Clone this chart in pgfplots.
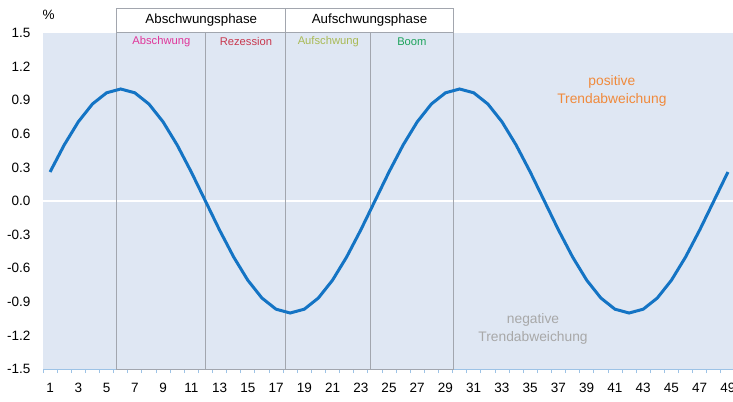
\documentclass[border=0pt]{standalone}
\usepackage{pgfplots}
\pgfplotsset{compat=1.18}
\usepackage{fontspec}
\setmainfont{Liberation Sans}
\definecolor{bgblue}{HTML}{DFE7F3}
\definecolor{curveblue}{HTML}{1474C4}
\definecolor{axblue}{HTML}{9DC3E6}
\definecolor{boxgray}{HTML}{A2A6AE}
\definecolor{cmag}{HTML}{E0369A}
\definecolor{cred}{HTML}{C8384E}
\definecolor{colive}{HTML}{A9BA55}
\definecolor{cgreen}{HTML}{1CA35B}
\definecolor{corange}{HTML}{F08A3C}
\definecolor{cgray}{HTML}{A8A8A8}
\begin{document}
\begin{tikzpicture}[x=1bp,y=1bp]
\useasboundingbox (0,0) rectangle (733,401);
\begin{axis}[
  at={(43bp,32bp)}, anchor=south west,
  scale only axis, width=692bp, height=336bp,
  xmin=0.5, xmax=49.5, ymin=-1.5, ymax=1.5,
  clip=false,
  axis background/.style={fill=bgblue},
  axis x line*=bottom, axis y line*=left,
  x axis line style={draw=axblue, line width=1bp},
  y axis line style={draw=none},
  xtick={1,3,...,49},
  minor xtick={0.5,1.5,...,49.5},
  ytick={-1.5,-1.2,...,1.6},
  major tick length=0pt,
  minor tick length=4bp,
  tick align=outside,
  minor tick style={draw=axblue, line width=0.8bp},
  major tick style={draw=none},
  /pgf/number format/assume math mode=true,
  yticklabel={\pgfmathprintnumber[fixed,fixed zerofill,precision=1]{\tick}},
  ticklabel style={font=\fontsize{13.5bp}{16bp}\selectfont, text=black},
  yticklabel style={xshift=-9bp},
  xticklabel style={yshift=-11bp},
]
% zero line
\draw[white, line width=2.2bp] (axis cs:0.5,0) -- (axis cs:49.5,0);
% phase box
\fill[white] (axis cs:5.72,1.5) rectangle (axis cs:29.55,1.723);
\draw[boxgray, line width=1bp] (axis cs:5.72,-1.5) rectangle (axis cs:29.55,1.723);
\draw[boxgray, line width=1bp] (axis cs:5.72,1.5) -- (axis cs:29.55,1.5);
\draw[boxgray, line width=1bp] (axis cs:17.7,-1.5) -- (axis cs:17.7,1.723);
\draw[boxgray, line width=1bp] (axis cs:12.04,-1.5) -- (axis cs:12.04,1.5);
\draw[boxgray, line width=1bp] (axis cs:23.7,-1.5) -- (axis cs:23.7,1.5);
% header labels
\node[font=\fontsize{13.3bp}{16bp}\selectfont] at (axis cs:11.71,1.613) {Abschwungsphase};
\node[font=\fontsize{13.3bp}{16bp}\selectfont] at (axis cs:23.62,1.613) {Aufschwungsphase};
\node[font=\fontsize{11.2bp}{13bp}\selectfont, text=cmag] at (axis cs:8.88,1.42) {Abschwung};
\node[font=\fontsize{11.2bp}{13bp}\selectfont, text=cred] at (axis cs:14.87,1.42) {Rezession};
\node[font=\fontsize{11.2bp}{13bp}\selectfont, text=colive] at (axis cs:20.7,1.42) {Aufschwung};
\node[font=\fontsize{11.2bp}{13bp}\selectfont, text=cgreen] at (axis cs:26.62,1.42) {Boom};
% annotations
\node[font=\fontsize{13.8bp}{18bp}\selectfont, text=corange, align=center] at (axis cs:40.78,0.982) {positive\\Trendabweichung};
\node[font=\fontsize{13.8bp}{18bp}\selectfont, text=cgray, align=center] at (axis cs:35.2,-1.143) {negative\\Trendabweichung};
\node[font=\fontsize{13.5bp}{16bp}\selectfont] at (rel axis cs:0.008,1.055) {\%};
\addplot[curveblue, line width=3bp, mark=none] coordinates {
(1,0.259) (2,0.5) (3,0.707) (4,0.866) (5,0.966) (6,1.0) (7,0.966) (8,0.866) (9,0.707) (10,0.5)
(11,0.259) (12,0) (13,-0.259) (14,-0.5) (15,-0.707) (16,-0.866) (17,-0.966) (18,-1.0) (19,-0.966) (20,-0.866)
(21,-0.707) (22,-0.5) (23,-0.259) (24,0) (25,0.259) (26,0.5) (27,0.707) (28,0.866) (29,0.966) (30,1.0)
(31,0.966) (32,0.866) (33,0.707) (34,0.5) (35,0.259) (36,0) (37,-0.259) (38,-0.5) (39,-0.707) (40,-0.866)
(41,-0.966) (42,-1.0) (43,-0.966) (44,-0.866) (45,-0.707) (46,-0.5) (47,-0.259) (48,0) (49,0.259)
};
\end{axis}
\end{tikzpicture}
\end{document}
